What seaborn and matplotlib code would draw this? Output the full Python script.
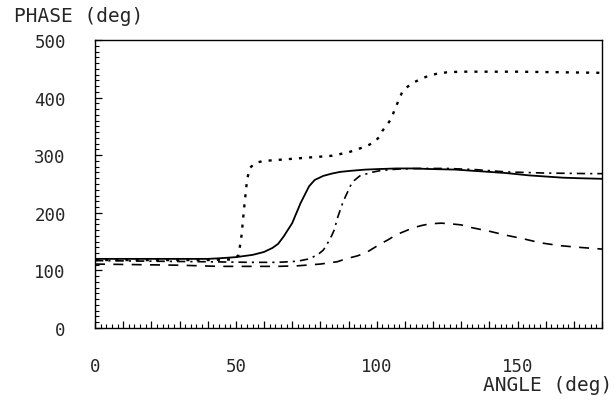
import numpy as np
import pandas as pd
import seaborn as sns
import matplotlib.pyplot as plt
from matplotlib.ticker import MultipleLocator, FixedLocator

# values (angle in deg, phase in deg)
solid_x = [0, 20, 40, 44, 50, 56, 60, 63, 65, 67, 70, 73, 76, 78, 81, 84, 87, 91, 96,
           101, 107, 113, 119, 128, 137, 146, 154, 160, 166, 172, 180]
solid_y = [120, 120, 120, 121, 123, 127, 132, 139, 146, 159, 182, 217, 246, 257, 264, 268,
           271, 273, 275, 276, 277, 277, 276, 275, 272, 269, 265, 263, 261, 260, 259]

dotted_x = [0, 20, 40, 48, 50, 51, 52, 53, 54, 55, 57, 60, 68, 76, 84, 90, 93, 96, 99,
            101, 102, 104, 105, 107, 109, 111, 113, 116, 118, 121, 125, 130, 136, 150, 165, 180]
dotted_y = [118, 118, 118, 119, 122, 127, 160, 211, 258, 278, 287, 290, 293, 296, 299, 305,
            310, 315, 322, 332, 342, 355, 362, 386, 409, 419, 426, 433, 437, 441, 444, 445,
            445, 445, 444, 443]

dashdot_x = [0, 20, 40, 55, 65, 72, 76, 79, 81, 82, 84, 85, 86, 88, 89, 91, 92, 94, 96,
             98, 101, 105, 108, 115, 125, 135, 146, 160, 176, 180]
dashdot_y = [117, 116, 115, 114, 114, 116, 120, 127, 135, 142, 160, 171, 190, 218, 229, 250,
             256, 264, 267, 270, 273, 275, 276, 277, 277, 275, 271, 269, 268, 268]

dashed_x = [0, 15, 30, 44, 55, 65, 72, 80, 86, 89, 93, 96, 101, 104, 107, 110, 113, 116,
            119, 123, 126, 130, 133, 137, 140, 146, 152, 158, 165, 172, 180]
dashed_y = [111, 110, 109, 107, 107, 107, 108, 111, 115, 120, 125, 130, 145, 153, 162, 168,
            174, 178, 181, 182, 181, 179, 175, 171, 168, 161, 155, 148, 143, 140, 137]

x_ticks = [0, 50, 100, 150]
y_ticks = [0, 100, 200, 300, 400, 500]

series = [
    ('solid', solid_x, solid_y),
    ('dotted', dotted_x, dotted_y),
    ('dashdot', dashdot_x, dashdot_y),
    ('dashed', dashed_x, dashed_y),
]
frames = [pd.DataFrame({'angle': xs, 'phase': ys, 'curve': name}) for name, xs, ys in series]
df = pd.concat(frames, ignore_index=True)

sns.set_style('white')
plt.rcParams['font.family'] = ['DejaVu Sans Mono']

fig = plt.figure(figsize=(6.16, 4.06), dpi=100)
ax = fig.add_axes([95 / 616, 1 - 329 / 406, 507 / 616, 288 / 406])

styles = {
    'solid': (None, 1.3),
    'dotted': ((1.3, 3.0), 1.7),
    'dashdot': ((5, 3, 1.3, 3), 1.2),
    'dashed': ((6, 5), 1.2),
}
for name, _, _ in series:
    dashes, lw = styles[name]
    sns.lineplot(data=df[df['curve'] == name], x='angle', y='phase', ax=ax,
                 color='black', lw=lw, sort=False, estimator=None, legend=False)
    if dashes is not None:
        ax.lines[-1].set_dashes(dashes)

ax.set_xlim(0, 180)
ax.set_ylim(0, 500)
ax.set_xlabel('')
ax.set_ylabel('')

ax.xaxis.set_major_locator(MultipleLocator(10))
ax.xaxis.set_minor_locator(MultipleLocator(2))
ax.xaxis.set_major_formatter(plt.FuncFormatter(lambda v, p: f'{int(v)}' if int(v) in x_ticks else ''))
ax.yaxis.set_major_locator(FixedLocator(y_ticks))
ax.yaxis.set_minor_locator(MultipleLocator(10))

ax.tick_params(axis='both', which='major', direction='in', length=5, width=0.9,
               labelsize=12.5, color='black')
ax.tick_params(axis='both', which='minor', direction='in', length=3, width=0.8, color='black')
ax.tick_params(axis='x', which='both', top=False, bottom=True)
ax.tick_params(axis='y', which='both', left=True, right=False)
ax.tick_params(axis='x', which='major', pad=21)
ax.tick_params(axis='y', which='major', pad=21)

for side in ax.spines.values():
    side.set_visible(True)
    side.set_color('black')
    side.set_linewidth(1.0)

fig.text(14 / 616, 1 - 17 / 406, 'PHASE (deg)', fontsize=14, ha='left', va='center')
fig.text(612 / 616, 1 - 386 / 406, 'ANGLE (deg)', fontsize=14, ha='right', va='center')

fig.savefig('out.png', dpi=100)
